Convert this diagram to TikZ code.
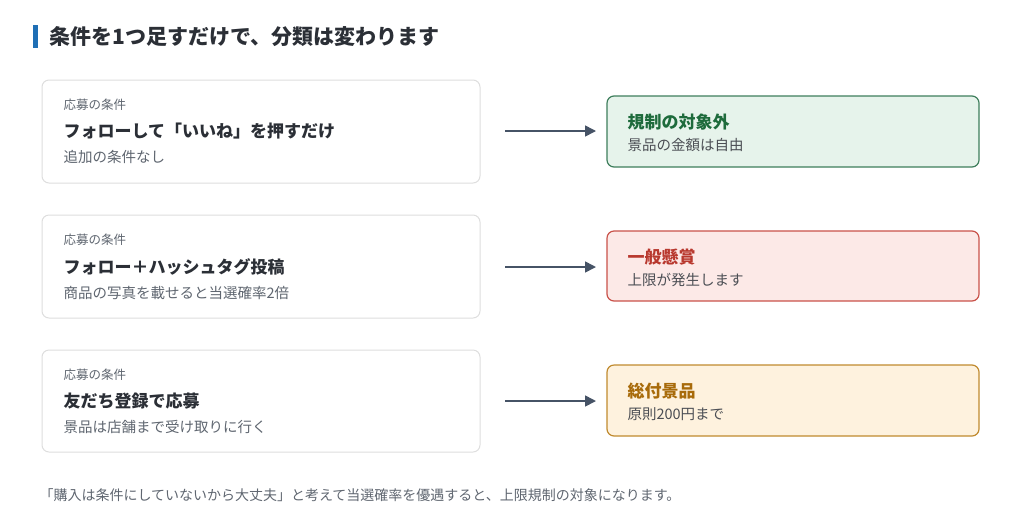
\documentclass[tikz,border=0pt]{standalone}
\usepackage{fontspec}
\setmainfont{Noto Sans CJK JP}
\usetikzlibrary{arrows.meta}
\definecolor{tx}{HTML}{2B2F36}
\definecolor{gr}{HTML}{5F6670}
\definecolor{ar}{HTML}{465366}
\definecolor{bl}{HTML}{1F6FB5}
\definecolor{gB}{HTML}{3E7E5C}\definecolor{gF}{HTML}{E6F3EB}\definecolor{gT}{HTML}{1E6B3C}
\definecolor{rB}{HTML}{C9524A}\definecolor{rF}{HTML}{FCE9E7}\definecolor{rT}{HTML}{B8382E}
\definecolor{oB}{HTML}{C08A2E}\definecolor{oF}{HTML}{FEF2DE}\definecolor{oT}{HTML}{A86B0A}
\begin{document}
\begin{tikzpicture}[x=1pt,y=-1pt,
 lbox/.style={draw=black!13,line width=1pt,rounded corners=7pt,fill=white},
 rbox/.style={line width=1.2pt,rounded corners=7pt},
 sm/.style={anchor=west,text=gr,font=\fontsize{12.5}{14}\selectfont},
 mn/.style={anchor=west,text=tx,font=\fontsize{17}{20}\selectfont\bfseries},
 sb/.style={anchor=west,text=gr,font=\fontsize{14.5}{16}\selectfont},
 arr/.style={draw=ar,line width=1.6pt,-{Triangle[length=11pt,width=11pt]}},
 ttl/.style={anchor=west,font=\fontsize{17}{20}\selectfont\bfseries},
 rs/.style={anchor=west,text=tx!85,font=\fontsize{14.5}{16}\selectfont}]
\useasboundingbox (0,0) rectangle (1024,515);
\fill[bl] (33,25) rectangle (37.5,48);
\node[anchor=west,text=tx,font=\fontsize{21}{24}\selectfont\bfseries] (title) at (46,37) {条件を1つ足すだけで、分類は変わります};
% row 1
\draw[lbox] (42,80) rectangle (480,183);
\node[sm] (l1a) at (60,105) {応募の条件};
\node[mn] (l1b) at (60,131) {フォローして「いいね」を押すだけ};
\node[sb] (l1c) at (60,157) {追加の条件なし};
\draw[rbox,draw=gB,fill=gF] (607,96) rectangle (979,167);
\node[ttl,text=gT] (r1a) at (624,122) {規制の対象外};
\node[rs] (r1b) at (624,145) {景品の金額は自由};
\coordinate (a1s) at (505,131); \coordinate (a1e) at (596,131);
\draw[arr] (a1s) -- (a1e);
% row 2
\draw[lbox] (42,215) rectangle (480,318);
\node[sm] (l2a) at (60,240) {応募の条件};
\node[mn] (l2b) at (60,267) {フォロー＋ハッシュタグ投稿};
\node[sb] (l2c) at (60,293) {商品の写真を載せると当選確率2倍};
\draw[rbox,draw=rB,fill=rF] (607,231) rectangle (979,301);
\node[ttl,text=rT] (r2a) at (624,257) {一般懸賞};
\node[rs] (r2b) at (624,280) {上限が発生します};
\coordinate (a2s) at (505,267); \coordinate (a2e) at (596,267);
\draw[arr] (a2s) -- (a2e);
% row 3
\draw[lbox] (42,350) rectangle (480,452);
\node[sm] (l3a) at (60,375) {応募の条件};
\node[mn] (l3b) at (60,401) {友だち登録で応募};
\node[sb] (l3c) at (60,427) {景品は店舗まで受け取りに行く};
\draw[rbox,draw=oB,fill=oF] (607,365) rectangle (979,436);
\node[ttl,text=oT] (r3a) at (624,391) {総付景品};
\node[rs] (r3b) at (624,414) {原則200円まで};
\coordinate (a3s) at (505,401); \coordinate (a3e) at (596,401);
\draw[arr] (a3s) -- (a3e);
\node[anchor=west,text=gr,font=\fontsize{14}{16}\selectfont] (foot) at (36,495) {「購入は条件にしていないから大丈夫」と考えて当選確率を優遇すると、上限規制の対象になります。};
\end{tikzpicture}
\end{document}
